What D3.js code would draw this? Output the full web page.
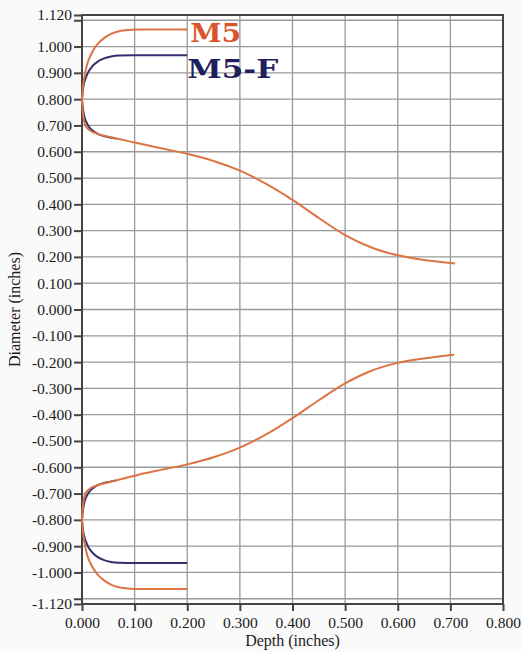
<!DOCTYPE html>
<html>
<head>
<meta charset="utf-8">
<script src="https://cdn.jsdelivr.net/npm/d3@7"></script>
<style>
  body { margin: 0; background: #fafafa; }
  svg { display: block; }
</style>
</head>
<body>
<svg width="522" height="652"></svg>
<script>
// depth (x) vs diameter (y), inches
const M5_UPPER_OUTER = [[0,0.80],[0.001,0.83],[0.003,0.865],[0.006,0.90],[0.01,0.935],[0.016,0.965],[0.024,0.995],[0.032,1.015],[0.042,1.032],[0.056,1.049],[0.07,1.058],[0.087,1.063],[0.11,1.065],[0.2,1.065]];
const M5F_UPPER_OUTER = [[0,0.80],[0.001,0.825],[0.003,0.852],[0.007,0.88],[0.012,0.903],[0.02,0.926],[0.03,0.943],[0.042,0.955],[0.055,0.962],[0.07,0.966],[0.1,0.967],[0.2,0.967]];
const M5_UPPER_INNER = [[0,0.80],[0.001,0.765],[0.003,0.728],[0.006,0.702],[0.01,0.69],[0.016,0.68],[0.03,0.668],[0.055,0.655],[0.1,0.635],[0.15,0.613],[0.2,0.592],[0.25,0.565],[0.3,0.528],[0.35,0.478],[0.4,0.417],[0.45,0.348],[0.5,0.283],[0.55,0.236],[0.6,0.206],[0.65,0.188],[0.709,0.175]];
const M5F_UPPER_INNER = [[0,0.80],[0.002,0.76],[0.005,0.73],[0.011,0.702],[0.017,0.686],[0.024,0.675],[0.033,0.665],[0.045,0.658],[0.065,0.65]];

const M5_LOWER_OUTER = [[0,-0.80],[0.001,-0.83],[0.003,-0.865],[0.006,-0.90],[0.01,-0.935],[0.016,-0.965],[0.024,-0.993],[0.032,-1.013],[0.042,-1.03],[0.056,-1.047],[0.07,-1.056],[0.087,-1.061],[0.11,-1.063],[0.2,-1.063]];
const M5F_LOWER_OUTER = [[0,-0.80],[0.001,-0.825],[0.003,-0.852],[0.007,-0.88],[0.012,-0.903],[0.02,-0.925],[0.03,-0.942],[0.042,-0.953],[0.055,-0.96],[0.07,-0.963],[0.1,-0.964],[0.2,-0.964]];
const M5_LOWER_INNER = [[0,-0.80],[0.001,-0.765],[0.003,-0.728],[0.006,-0.702],[0.01,-0.69],[0.016,-0.68],[0.03,-0.668],[0.055,-0.655],[0.1,-0.632],[0.15,-0.61],[0.2,-0.589],[0.25,-0.562],[0.3,-0.525],[0.35,-0.475],[0.4,-0.413],[0.45,-0.345],[0.5,-0.281],[0.55,-0.233],[0.6,-0.203],[0.65,-0.186],[0.707,-0.172]];
const M5F_LOWER_INNER = [[0,-0.80],[0.002,-0.76],[0.005,-0.73],[0.011,-0.702],[0.017,-0.686],[0.024,-0.675],[0.033,-0.665],[0.045,-0.658],[0.065,-0.65]];

const X_TICKS = [0, 0.1, 0.2, 0.3, 0.4, 0.5, 0.6, 0.7, 0.8];
const Y_TICKS = [-1.12, -1.1, -1.0, -0.9, -0.8, -0.7, -0.6, -0.5, -0.4, -0.3, -0.2, -0.1, 0, 0.1, 0.2, 0.3, 0.4, 0.5, 0.6, 0.7, 0.8, 0.9, 1.0, 1.1, 1.12];
const Y_UNLABELLED = [-1.1, 1.1];
const Y_GRID = [-1.1, -1.0, -0.9, -0.8, -0.7, -0.6, -0.5, -0.4, -0.3, -0.2, -0.1, 0, 0.1, 0.2, 0.3, 0.4, 0.5, 0.6, 0.7, 0.8, 0.9, 1.0, 1.1];

const ORANGE = '#dc7443';
const NAVY = '#33306f';

const plotLeft = 82, plotRight = 503, plotTop = 15, plotBottom = 604;

const x = d3.scaleLinear().domain([0, 0.8]).range([plotLeft, plotRight]);
const y = d3.scaleLinear().domain([-1.12, 1.12]).range([plotBottom, plotTop]);

const fmt = d => d3.format('.3f')(d).replace('\u2212', '-');

const svg = d3.select('svg');

svg.append('rect')
  .attr('x', plotLeft).attr('y', plotTop)
  .attr('width', plotRight - plotLeft).attr('height', plotBottom - plotTop)
  .attr('fill', '#fff');

// grid
svg.append('g')
  .selectAll('line')
  .data(Y_GRID)
  .join('line')
  .attr('x1', plotLeft).attr('x2', plotRight)
  .attr('y1', d => y(d)).attr('y2', d => y(d))
  .attr('stroke', '#999').attr('stroke-width', 1.3);

svg.append('g')
  .selectAll('line')
  .data(X_TICKS.slice(1, -1))
  .join('line')
  .attr('x1', d => x(d)).attr('x2', d => x(d))
  .attr('y1', plotTop).attr('y2', plotBottom)
  .attr('stroke', '#999').attr('stroke-width', 1.3);

// axes
const yAxis = d3.axisLeft(y)
  .tickValues(Y_TICKS)
  .tickSize(8)
  .tickPadding(2)
  .tickFormat(d => Y_UNLABELLED.includes(d) ? '' : fmt(d));

const xAxis = d3.axisBottom(x)
  .tickValues(X_TICKS)
  .tickSize(7)
  .tickPadding(6)
  .tickFormat(fmt);

const gy = svg.append('g').attr('transform', `translate(${plotLeft},0)`).call(yAxis);
const gx = svg.append('g').attr('transform', `translate(0,${plotBottom})`).call(xAxis);

[gx, gy].forEach(g => {
  g.select('.domain').remove();
  g.selectAll('.tick line').attr('stroke', '#444').attr('stroke-width', 2);
  g.selectAll('.tick text')
    .attr('fill', '#1a1a1a')
    .style('font-family', '"Liberation Serif", serif')
    .style('font-size', '15.5px');
});

// frame
svg.append('rect')
  .attr('x', plotLeft).attr('y', plotTop)
  .attr('width', plotRight - plotLeft).attr('height', plotBottom - plotTop)
  .attr('fill', 'none').attr('stroke', '#444').attr('stroke-width', 2);

// curves
const line = d3.line()
  .x(d => x(d[0]))
  .y(d => y(d[1]))
  .curve(d3.curveMonotoneX);

const curves = [
  [M5F_UPPER_OUTER, NAVY], [M5F_UPPER_INNER, NAVY],
  [M5F_LOWER_OUTER, NAVY], [M5F_LOWER_INNER, NAVY],
  [M5_UPPER_OUTER, ORANGE], [M5_UPPER_INNER, ORANGE],
  [M5_LOWER_OUTER, ORANGE], [M5_LOWER_INNER, ORANGE]
];

svg.append('g')
  .selectAll('path')
  .data(curves)
  .join('path')
  .attr('d', d => line(d[0]))
  .attr('fill', 'none')
  .attr('stroke', d => d[1])
  .attr('stroke-width', 2);

// series labels
svg.append('text')
  .attr('x', x(0.2) + 3).attr('y', y(1.065) + 12.5)
  .attr('fill', '#d9542a')
  .attr('textLength', 51)
  .attr('lengthAdjust', 'spacingAndGlyphs')
  .style('font-family', '"DejaVu Serif", serif')
  .style('font-weight', 'bold')
  .style('font-size', '26px')
  .text('M5');

svg.append('text')
  .attr('x', x(0.2)).attr('y', y(0.967) + 22.5)
  .attr('fill', '#1f1f5e')
  .attr('textLength', 91)
  .attr('lengthAdjust', 'spacingAndGlyphs')
  .style('font-family', '"DejaVu Serif", serif')
  .style('font-weight', 'bold')
  .style('font-size', '26px')
  .text('M5-F');

// axis titles
svg.append('text')
  .attr('x', (plotLeft + plotRight) / 2).attr('y', 646)
  .attr('text-anchor', 'middle')
  .attr('fill', '#1a1a1a')
  .style('font-family', '"Liberation Serif", serif')
  .style('font-size', '16px')
  .text('Depth (inches)');

svg.append('text')
  .attr('transform', `translate(20,${y(0)}) rotate(-90)`)
  .attr('text-anchor', 'middle')
  .attr('fill', '#1a1a1a')
  .style('font-family', '"Liberation Serif", serif')
  .style('font-size', '16px')
  .text('Diameter (inches)');
</script>
</body>
</html>
